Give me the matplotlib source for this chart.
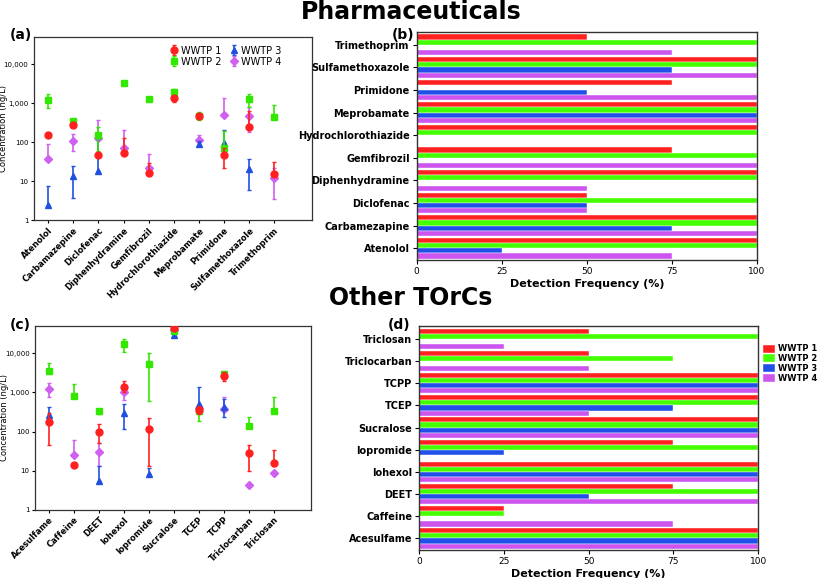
import numpy as np
import matplotlib
matplotlib.use('Agg')
import matplotlib.pyplot as plt
from matplotlib.ticker import FixedLocator, NullLocator

nan = np.nan

plants = ['WWTP 1', 'WWTP 2', 'WWTP 3', 'WWTP 4']
colors = ['#ff2020', '#33e800', '#2050e0', '#d060f0']
bar_colors = ['#ff2020', '#44ff00', '#2050e8', '#cc55ee']
markers = ['o', 's', '^', 'D']
msizes = [5, 5, 5, 4.2]

# ---- Pharmaceuticals: concentrations (ng/L), mean with min/max ----
pharma = ['Atenolol', 'Carbamazepine', 'Diclofenac', 'Diphenhydramine', 'Gemfibrozil',
          'Hydrochlorothiazide', 'Meprobamate', 'Primidone', 'Sulfamethoxazole', 'Trimethoprim']
ph_mean = [
    [155, 280, 48, 52, 16, 1350, 460, 48, 240, 15],
    [1200, 350, 150, 3400, 1300, 2000, 480, 72, 1300, 450],
    [2.5, 14, 18, nan, nan, nan, 90, 95, 21, nan],
    [38, 110, 130, 72, 22, nan, 115, 500, 470, 12],
]
ph_lo = [
    [140, 250, 48, 52, 16, 1100, 400, 22, 240, 15],
    [760, 300, 60, 3300, 1250, 1700, 380, 72, 800, 450],
    [2.5, 3.7, 18, nan, nan, nan, 80, 95, 6, nan],
    [38, 60, 130, 72, 22, nan, 100, 500, 180, 3.5],
]
ph_hi = [
    [175, 310, 48, 125, 30, 1500, 520, 70, 650, 32],
    [1750, 400, 250, 3500, 1400, 2300, 600, 190, 1700, 900],
    [7.5, 25, 130, nan, nan, nan, 110, 200, 38, nan],
    [90, 160, 380, 200, 50, nan, 150, 1400, 800, 22],
]

# ---- Pharmaceuticals: detection frequency (%) ----
pharma_b = ['Atenolol', 'Carbamezapine', 'Diclofenac', 'Diphenhydramine', 'Gemfibrozil',
            'Hydrochlorothiazide', 'Meprobamate', 'Primidone', 'Sulfamethoxazole', 'Trimethoprim']
ph_freq = [
    [100, 100, 50, 100, 75, 100, 100, 75, 100, 50],
    [100, 100, 100, 100, 100, 100, 100, 0, 100, 100],
    [25, 75, 50, 0, 0, 0, 100, 50, 75, 0],
    [75, 100, 50, 50, 100, 0, 100, 100, 100, 75],
]

# ---- Other TOrCs: concentrations (ng/L) ----
other = ['Acesulfame', 'Caffeine', 'DEET', 'Iohexol', 'Iopromide', 'Sucralose',
         'TCEP', 'TCPP', 'Triclocarban', 'Triclosan']
ot_mean = [
    [175, 14, 100, 1350, 115, 45000, 350, 2600, 28, 16],
    [3500, 800, 330, 17000, 5300, 37000, 330, 3000, 135, 340],
    [270, nan, 5.5, 290, 8, 30000, 500, 430, nan, nan],
    [1200, 25, 30, 1000, nan, 40000, 400, 380, 4.2, 8.8],
]
ot_lo = [
    [45, 14, 50, 1000, 13, 42000, 280, 2000, 10, 13],
    [3500, 800, 280, 11000, 600, 34000, 190, 2700, 135, 340],
    [270, nan, 5.5, 115, 8, 28000, 450, 230, nan, nan],
    [780, 25, 13, 650, nan, 40000, 350, 380, 4.2, 8.8],
]
ot_hi = [
    [300, 14, 160, 2000, 220, 48000, 450, 3300, 45, 33],
    [5800, 1600, 380, 23000, 10000, 40000, 400, 3400, 240, 750],
    [430, nan, 13, 500, 12, 32000, 1400, 700, nan, nan],
    [1700, 60, 50, 1300, nan, 40000, 450, 750, 4.2, 8.8],
]

# ---- Other TOrCs: detection frequency (%) ----
ot_freq = [
    [100, 25, 75, 100, 75, 100, 100, 100, 50, 50],
    [100, 25, 100, 100, 100, 100, 100, 100, 75, 100],
    [100, 0, 50, 100, 25, 100, 75, 100, 0, 0],
    [100, 75, 100, 100, 0, 100, 50, 100, 50, 25],
]

fig = plt.figure(figsize=(8.17, 5.78), dpi=100)


def conc_panel(ax, names, mean, lo, hi, legend=False):
    x = np.arange(len(names))
    for i in range(4):
        m = np.array(mean[i], dtype=float)
        l = np.array(lo[i], dtype=float)
        h = np.array(hi[i], dtype=float)
        err = np.vstack([np.clip(m - l, 0, None), np.clip(h - m, 0, None)])
        ax.errorbar(x, m, yerr=err, fmt=markers[i], color=colors[i], ms=msizes[i],
                    mec=colors[i], elinewidth=1.2, capsize=1.5, capthick=1,
                    label=plants[i], zorder=7 - i)
    ax.set_yscale('log')
    ax.set_ylim(1, 50000)
    ax.set_xlim(-0.56, 10.5)
    ax.yaxis.set_major_locator(FixedLocator([1, 10, 100, 1000, 10000]))
    ax.yaxis.set_minor_locator(NullLocator())
    ax.set_yticklabels(['1', '10', '100', '1,000', '10,000'], fontsize=5)
    ax.set_ylabel('Concentration (ng/L)', fontsize=6)
    ax.yaxis.set_label_coords(-0.095, 0.5)
    ax.set_xticks(x)
    ax.set_xticklabels(names, rotation=45, ha='right', rotation_mode='anchor',
                       fontsize=6, fontweight='bold')
    ax.tick_params(axis='both', length=2, width=0.8, pad=2)
    for s in ax.spines.values():
        s.set_linewidth(0.9)
        s.set_color('#333333')
    if legend:
        ax.legend(ncol=2, loc='upper left', bbox_to_anchor=(0.45, 1.0), frameon=False,
                  fontsize=7, handletextpad=0.2, columnspacing=0.6,
                  labelspacing=0.1, handlelength=1.2)


def freq_panel(ax, names, freq, legend=False):
    y = np.arange(len(names))
    h = 0.23
    offs = [1.5 * h, 0.5 * h, -0.5 * h, -1.5 * h]
    for i in range(4):
        ax.barh(y + offs[i], freq[i], height=h, color=bar_colors[i],
                edgecolor='white', linewidth=0.3, label=plants[i])
    ax.set_xlim(0, 100)
    ax.set_ylim(-0.53, 9.58)
    ax.set_xticks([0, 25, 50, 75, 100])
    ax.set_xticklabels(['0', '25', '50', '75', '100'], fontsize=6.5)
    ax.set_yticks(y)
    ax.set_yticklabels(names, fontsize=7, fontweight='bold')
    ax.set_xlabel('Detection Frequency (%)', fontsize=8, fontweight='bold', labelpad=2)
    ax.tick_params(axis='both', length=3, width=0.8, pad=2)
    for s in ax.spines.values():
        s.set_linewidth(1.0)
        s.set_color('#333333')
    if legend:
        ax.legend(loc='upper left', bbox_to_anchor=(1.0, 0.94), frameon=False,
                  handlelength=1.4, handleheight=1.1, borderaxespad=0.2,
                  handletextpad=0.4, labelspacing=0.1,
                  prop={'size': 6, 'weight': 'bold'})


ax_a = fig.add_axes([0.0416, 0.619, 0.3404, 0.317])
conc_panel(ax_a, pharma, ph_mean, ph_lo, ph_hi, legend=True)
ax_b = fig.add_axes([0.510, 0.550, 0.4166, 0.395])
freq_panel(ax_b, pharma_b, ph_freq)
ax_c = fig.add_axes([0.043, 0.118, 0.338, 0.318])
conc_panel(ax_c, other, ot_mean, ot_lo, ot_hi)
ax_d = fig.add_axes([0.513, 0.048, 0.415, 0.388])
freq_panel(ax_d, other, ot_freq, legend=True)

fig.text(0.503, 0.979, 'Pharmaceuticals', ha='center', va='center',
         fontsize=17, fontweight='bold')
fig.text(0.503, 0.484, 'Other TOrCs', ha='center', va='center',
         fontsize=17, fontweight='bold')
fig.text(0.012, 0.94, '(a)', fontsize=10, fontweight='bold', va='center')
fig.text(0.48, 0.94, '(b)', fontsize=10, fontweight='bold', va='center')
fig.text(0.012, 0.438, '(c)', fontsize=10, fontweight='bold', va='center')
fig.text(0.475, 0.438, '(d)', fontsize=10, fontweight='bold', va='center')

fig.savefig('out.png', dpi=100)
